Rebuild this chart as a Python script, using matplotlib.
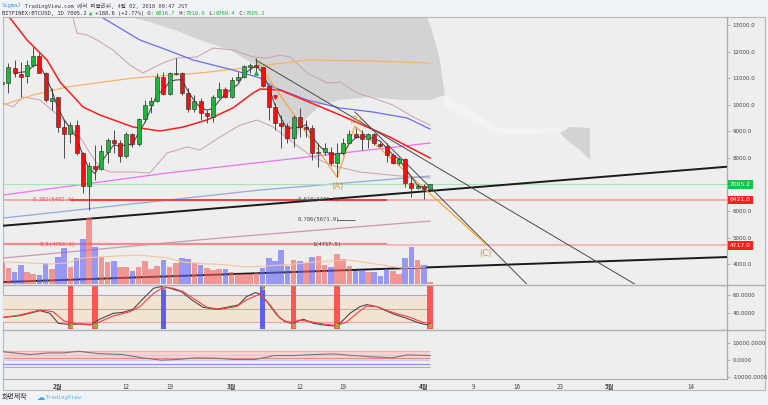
import matplotlib
matplotlib.use('Agg')
import matplotlib.pyplot as plt
import numpy as np
import pandas as pd
from matplotlib.patches import Rectangle, Polygon
from matplotlib.lines import Line2D

# ---------------- data (day index: 0 = 2018-02-01) ----------------
days = list(range(-9, 61))
opens = [10770, 10807, 11371, 11158, 11083, 11496, 11835, 11208, 10143, 10281,
         9178, 8890, 9241, 8176, 6948, 7700, 7574, 8238, 8677, 8552,
         8076, 8890, 8514, 9454, 9993, 10156, 11058, 10406, 11158, 11208,
         10456, 9830, 10156, 9679, 9554, 10306, 10582, 10306, 10932, 11033,
         11434, 11509, 11409, 10707, 9930, 9304, 9203, 8740, 9529, 9153,
         9115, 8176, 8238, 8238, 7825, 8176, 8577, 8890, 8890, 8702,
         8890, 8527, 8452, 8113, 7800, 7950, 7073, 6860, 6948, 6816.7]
highs = [11058, 11559, 11684, 11622, 11684, 12185, 11935, 11246, 10619, 10306,
         9429, 9366, 9429, 8238, 7862, 8489, 8489, 8740, 9053, 8677,
         8990, 8928, 9491, 10181, 10306, 11183, 11246, 11246, 11747, 11246,
         10619, 10369, 10243, 9805, 10369, 10870, 10682, 11058, 11246, 11496,
         11559, 11747, 11434, 10745, 10055, 9617, 9304, 9617, 9867, 9429,
         9241, 8552, 8552, 8426, 8552, 8740, 9053, 9115, 9053, 8928,
         8928, 8615, 8552, 8176, 8050, 7988, 7299, 7023, 7023, 7019.0]
lows = [10556, 10431, 11058, 10306, 10807, 11434, 11183, 10118, 9805, 8990,
        7988, 8552, 8113, 6672, 6046, 7173, 7549, 7800, 8176, 7862,
        7988, 8426, 8452, 9366, 9679, 10118, 10369, 10369, 11120, 10369,
        9742, 9742, 9429, 9329, 9366, 10243, 10243, 10243, 10870, 11000,
        11183, 11183, 10682, 9429, 9053, 8364, 8552, 8426, 8802, 8802,
        7925, 7675, 8113, 7737, 7299, 8113, 8552, 8740, 8301, 8364,
        8489, 8426, 7862, 7775, 7737, 6923, 6547, 6822, 6447, 6769.4]
closes = [10870, 11434, 11183, 11058, 11496, 11835, 11208, 10181, 10243, 9178,
          8890, 9241, 8176, 6948, 7700, 7587, 8263, 8677, 8552, 8076,
          8890, 8527, 9454, 9993, 10156, 11058, 10406, 11183, 11208, 10456,
          9830, 10156, 9679, 9579, 10306, 10582, 10306, 10932, 11033, 11459,
          11509, 11409, 10707, 9930, 9304, 9203, 8740, 9529, 9153, 9078,
          8176, 8238, 8364, 7825, 8176, 8577, 8890, 8802, 8702, 8890,
          8552, 8452, 8113, 7800, 7950, 7073, 6860, 6948, 6822, 7005.2]
volumes = [22, 16, 12, 19, 12, 10, 9, 21, 15, 27,
           36, 17, 26, 45, 66, 37, 27, 22, 23, 17,
           17, 13, 17, 23, 15, 18, 24, 17, 21, 26,
           25, 21, 19, 16, 14, 15, 15, 12, 10, 10,
           10, 11, 16, 26, 23, 34, 18, 24, 23, 21,
           27, 28, 19, 17, 30, 25, 18, 13, 14, 12,
           12, 8, 15, 13, 10, 26, 37, 24, 19, 2]
vol_up = "rrbbrrbbrbbrbbrbrrbrrbrrrrbrrbbrbrrrbrrrrrbbbbbrbrbrrbrrrbbrbbbrrbbrbr"

vol_ma_days = [-8.9, -4, -1.3, 1.4, 4, 6.8, 9.5, 13.2, 17.6, 20.2, 24, 25.3, 30.6, 36.1, 41.5, 46.8, 52.3, 55.5, 59.2]
vol_ma_vals = [22, 21, 20, 21, 26, 27, 28, 29, 26, 22, 20, 20, 17, 19, 22, 24, 19, 16, 17]

red_ma_days = [-8.87, -5.0, -1.77, 0.32, 4.03, 6.77, 12.1, 16.45, 20.2, 24.0, 28.2, 31.45, 32.6, 35.8, 45.5, 53.5, 60]
red_ma_vals = [13600, 12436, 11684, 10857, 9917, 9616, 9165, 9014, 9165, 9428, 9879, 10443, 10594, 10556, 9616, 8789, 8000]
blue_ma_days = [5.16, 7.26, 13.2, 17.6, 21.8, 28.2, 32.6, 34.7, 40.2, 45.5, 50.8, 56.3, 60]
blue_ma_vals = [13564, 13263, 12436, 12060, 11684, 11308, 11007, 10669, 10180, 9879, 9729, 9503, 9090]
orange_ma_days = [-8.87, -4.03, 1.45, 12.1, 22.9, 32.6, 40.2, 50.8, 60]
orange_ma_vals = [9992, 10368, 10669, 11007, 11195, 11458, 11684, 11646, 11571]
magenta_days = [-8.87, 17.6, 60]
magenta_vals = [6608, 7435, 8563]
ltblue_days = [-8.87, 32.6, 60]
ltblue_vals = [5743, 6796, 7322]
mauve_days = [-8.87, 26.1, 60]
mauve_vals = [4239, 4991, 5630]

bb_up_days = [0.3, 2.42, 3.06, 4.68, 6.29, 8.87, 11.6, 13.7, 16.9, 19.2, 22.4, 25.0, 28.2, 31.45, 33.7, 35.8, 37.4,
              40.2, 43.4, 45.5, 48.2, 50.8, 54.0, 57.3, 60]
bb_up_vals = [13752, 13263, 12699, 12624, 12436, 12060, 11496, 11195, 11571, 11759, 11797, 12135, 12060, 11797, 11759,
              11872, 11797, 11195, 10819, 10857, 10443, 10255, 9992, 9541, 9240]
bb_lo_days = [-8.87, -7.26, -5.65, -2.9, 0.32, 3.55, 5.16, 6.77, 8.4, 12.1, 14.8, 17.6, 20.8, 22.9, 26.1, 29.4, 32.1,
              34.7, 37.4, 40.6, 43.9, 48.7, 55.2, 60]
bb_lo_vals = [10067, 9917, 10293, 10180, 9541, 8789, 8187, 7623, 7473, 7473, 7435, 8187, 8413, 8300, 8789, 9240, 9428,
              9165, 8676, 8112, 7736, 7473, 7322, 7247]

cloud_dark_days = [7.58, 58.4, 60.3, 61.6, 62.4, 60, 55.2, 50.3, 45.5, 42.3, 39.8, 38.2, 36.6, 35.5, 34.2, 31.8,
                   27.7, 22.9, 18.9, 14.8, 11.6]
cloud_dark_vals = [14000, 14000, 12812, 11684, 10368, 10180, 10180, 10293, 10180, 9992, 9428, 8676, 8676, 9804,
                   10744, 11496, 12060, 12436, 12812, 13113, 13300]
cloud_light_days = [62.4, 71.3, 81.0, 81.0, 71.3, 62.4]
cloud_light_vals = [10368, 9128, 9165, 8939, 8864, 9900]
cloud_end_days = [80.97, 82.6, 85.8, 85.8, 84.2, 82.1]
cloud_end_vals = [8939, 9165, 9128, 7924, 8300, 8676]

trend_up_days, trend_up_vals = [-8.87, 107.9], [5454, 7672]
trend_lo_days, trend_lo_vals = [-8.87, 107.9], [3337, 4277]
line1_days, line1_vals = [31.9, 93.0], [11684, 3262]
line2_days, line2_vals = [47.9, 75.6], [9729, 3262]
abc_days = [31.9, 45.0, 47.9, 69.0]
abc_vals = [11684, 7285, 9203, 4763]
abc_labels = ["(A)", "(B)", "(C)"]
abc_label_vals = [6946, 9428, 4427]

last_price = 7005.2
fib_levels = {"0.382(6402.4)": 6402.4, "0.618(6421.4)": 6421.4, "0.786(5671.9)": 5671.9,
              "0.5(4763.3)": 4763.3, "1(4717.5)": 4717.5}
axis_boxes = [(7005.2, "7005.2", "#19c24a"), (6421.0, "6421.0", "#ff1f1f"), (4717.0, "4717.0", "#ff1f1f")]

stk_days = [-8.8, -6.1, -2.9, -1.3, 0.05, 1.7, 3.8, 5.4, 6.8, 8.9, 10.5, 12.1, 13.8, 15.4, 16.5, 17.5, 19.9, 21.6,
            23.4, 25.6, 27.7, 29.1, 30.4, 31.8, 32.6, 33.7, 35.3, 36.6, 38.0, 39.6, 41.2, 42.8, 44.4, 45.5, 47.1,
            48.7, 49.8, 51.4, 54.1, 56.2, 58.4, 59.7, 60]
stk_k = [35.6, 37.5, 42.9, 40.0, 29.1, 28.0, 28.4, 28.0, 33.8, 40.0, 41.1, 44.4, 56.4, 67.3, 69.1, 68.4, 63.6, 54.6,
         46.6, 44.4, 47.3, 49.1, 58.2, 62.5, 61.1, 52.7, 38.2, 30.9, 29.8, 33.5, 29.1, 27.3, 26.2, 29.1, 40.0,
         47.3, 49.5, 47.3, 39.3, 34.6, 29.1, 27.3, 29.1]
std_days = [-8.8, -6.1, -2.9, -0.8, 0.9, 2.5, 5.2, 6.8, 8.9, 11.6, 13.2, 15.4, 17.0, 18.6, 20.2, 21.8, 24.0, 26.1,
            28.8, 30.4, 32.6, 34.2, 35.8, 37.4, 39.0, 40.7, 42.8, 45.0, 46.6, 48.2, 49.8, 51.4, 54.1, 56.8, 58.9, 60]
std_d = [35.6, 38.2, 43.7, 41.8, 32.0, 29.1, 27.3, 30.9, 37.1, 41.8, 47.3, 61.8, 68.4, 67.3, 63.6, 56.4, 46.6, 44.4,
         47.3, 54.6, 61.1, 49.1, 34.6, 29.1, 32.7, 30.9, 28.4, 26.6, 30.9, 40.0, 48.0, 47.3, 40.7, 35.6, 29.8, 29.8]
signal_days = [2, 6, 17, 33, 38, 45, 60]
signal_types = ["B", "B", "S", "S", "B", "B", "B"]

osc3_days = [-9, -4.6, -1.5, 0.9, 3.3, 6.5, 10.4, 13.6, 16.7, 19.1, 22.3, 25.4, 28.6, 31.8, 34.9, 38.1, 41.2,
             44.4, 47.6, 50.7, 53.9, 56.3, 60]
osc3_vals = [4650, 2900, 3880, 3880, 4850, 3490, 2900, 970, -390, 0, 970, 780, 0, 0, 2330, 2330, 2900,
             3300, 2330, 1550, 970, 2710, 2330]

date_ticks = [0, 11, 18, 28, 39, 46, 59, 67, 74, 81, 89, 102]
date_labels = ["2월", "12", "19", "3월", "12", "19", "4월", "9", "16", "23", "5월", "14"]
price_ticks = [4000, 5000, 6000, 7000, 8000, 9000, 10000, 11000, 12000, 13000]
hidden_price_ticks = [7000]   # covered by the last-price box

# ---------------- layout ----------------
W, H = 768, 405
XMIN, XMAX = -8.87, 107.9
fig = plt.figure(figsize=(7.68, 4.05), dpi=100)
fig.patch.set_facecolor('#f0f3f6')
CJK = ['Noto Sans CJK KR', 'DejaVu Sans']
MONO = ['DejaVu Sans Mono', 'Noto Sans CJK KR']
TICK_FS = 4.0


def fr(x0, y0, x1, y1):
    return [x0 / W, 1 - y1 / H, (x1 - x0) / W, (y1 - y0) / H]


fig.add_artist(Rectangle((3 / W, 1 - 390 / H), 762 / W, 373 / H, transform=fig.transFigure,
                         facecolor='#eeeeee', edgecolor='#b8b8b8', lw=0.8, zorder=-5))


def style(ax):
    ax.set_facecolor('none')
    for s in ['top', 'left', 'bottom']:
        ax.spines[s].set_visible(False)
    ax.spines['right'].set_color('#aaaaaa')
    ax.spines['right'].set_linewidth(0.8)
    ax.set_xlim(XMIN, XMAX)
    ax.yaxis.tick_right()
    ax.tick_params(axis='y', labelsize=TICK_FS, labelcolor='#444444', length=2, width=0.5, color='#999999', pad=2)
    ax.tick_params(axis='x', bottom=False, labelbottom=False)


# volume overlay axes
axv = fig.add_axes(fr(3, 18, 727, 284))
axv.set_ylim(0, 266)
axv.set_xlim(XMIN, XMAX)
axv.axis('off')

ax = fig.add_axes(fr(3, 18, 727, 284))
style(ax)
ax.set_ylim(3263, 13263)
ax.set_yticks(price_ticks)
ax.set_yticklabels(["" if v in hidden_price_ticks else f"{v:.1f}" for v in price_ticks])

# cloud
ax.add_patch(Polygon(list(zip(cloud_dark_days, cloud_dark_vals)), closed=True, facecolor='#d3d3d3',
                     edgecolor='none', zorder=1))
ax.add_patch(Polygon(list(zip(cloud_light_days, cloud_light_vals)), closed=True, facecolor='#f3f3f3',
                     edgecolor='none', zorder=1))
ax.add_patch(Polygon(list(zip(cloud_end_days, cloud_end_vals)), closed=True, facecolor='#d3d3d3',
                     edgecolor='none', zorder=1))

# bands and MAs
ax.plot(bb_up_days, bb_up_vals, color='#c4a4a8', lw=0.7, zorder=2)
ax.plot(bb_lo_days, bb_lo_vals, color='#c4a4a8', lw=0.7, zorder=2)
ax.plot(orange_ma_days, orange_ma_vals, color='#f6b468', lw=0.9, zorder=2)
ax.plot(blue_ma_days, blue_ma_vals, color='#6c6cf0', lw=0.9, zorder=2)
ax.plot(magenta_days, magenta_vals, color='#f070f0', lw=0.9, zorder=2)
ax.plot(ltblue_days, ltblue_vals, color='#94a8dc', lw=0.9, zorder=2)
ax.plot(mauve_days, mauve_vals, color='#c898b4', lw=0.9, zorder=2)
ax.plot(red_ma_days, red_ma_vals, color='#ff1c1c', lw=1.1, zorder=2)

# horizontal levels
ax.hlines(last_price, XMIN, XMAX, color='#a4e2b2', lw=0.8, zorder=2)
ax.hlines(fib_levels["0.618(6421.4)"], XMIN, XMAX, color='#f4a4a4', lw=1.3, zorder=2)
ax.hlines(fib_levels["0.382(6402.4)"], 1.94, 53.0, color='#ff2a2a', lw=1.2, zorder=2)
ax.hlines(fib_levels["1(4717.5)"], 53.0, XMAX, color='#f5b8b8', lw=1.5, zorder=2)
ax.hlines(fib_levels["0.5(4763.3)"], XMIN, 53.0, color='#f28c8c', lw=1.6, zorder=2)
ax.hlines(fib_levels["0.786(5671.9)"], 45.0, 47.9, color='#666666', lw=0.7, zorder=2)

ax.text(-4.03, 6421, "0.382(6402.4)", color='#ff4a4a', fontsize=4, family=MONO, va='center', zorder=5)
ax.text(38.7, 6440, "0.618(6421.4)", color='#555555', fontsize=4, family=MONO, va='center', zorder=5)
ax.text(38.7, 5672, "0.786(5671.9)", color='#444444', fontsize=4, family=MONO, va='center', zorder=5)
ax.text(-2.9, 4745, "0.5(4763.3)", color='#ff4a4a', fontsize=4, family=MONO, va='center', zorder=5)
ax.text(41.0, 4745, "1(4717.5)", color='#444444', fontsize=4, family=MONO, va='center', zorder=5)

# trend lines
ax.plot(trend_up_days, trend_up_vals, color='#1a1a1a', lw=1.4, zorder=3)
ax.plot(trend_lo_days, trend_lo_vals, color='#1a1a1a', lw=1.4, zorder=3)
ax.plot(line1_days, line1_vals, color='#4a4a4a', lw=0.7, zorder=3)
ax.plot(line2_days, line2_vals, color='#4a4a4a', lw=0.7, zorder=3)
ax.plot(abc_days, abc_vals, color='#f5a838', lw=0.9, zorder=3)
for dd, lab, vv in zip(abc_days[1:], abc_labels, abc_label_vals):
    ax.text(dd, vv, lab, color='#d49a3a', fontsize=6, ha='center', va='center', zorder=5)

# short MA from closes
short_ma = pd.Series(closes).rolling(3).mean()
ax.plot(days, short_ma, color='#4d4d4d', lw=0.8, zorder=3)

# candles
o = np.array(opens); c = np.array(closes); h = np.array(highs); l = np.array(lows)
up = c >= o
ax.vlines(days, l, h, color='#333333', lw=0.6, zorder=4)
ax.bar(days, np.maximum(np.abs(c - o), 45), bottom=np.minimum(o, c), width=0.62,
       color=np.where(up, '#1db53c', '#f51010'), edgecolor='#2a2a2a', lw=0.4, zorder=5)
ax.plot([31.9], [11195], marker='^', color='#1db53c', ms=2.5, zorder=6)
ax.plot([35.0], [10293], marker='v', color='#f51010', ms=2.5, zorder=6)

# price boxes on axis
for val, txt, col in axis_boxes:
    ax.text(1.004, val, txt, transform=ax.get_yaxis_transform(), color='white', fontsize=TICK_FS + 0.3,
            va='center', ha='left', zorder=10, clip_on=False,
            bbox=dict(boxstyle='square,pad=0.3', facecolor=col, edgecolor='none'))

# volume bars: drawn on top with transparency
axv.set_zorder(ax.get_zorder() + 1)
vcols = ['#6464f5' if ch == 'b' else '#f55f5f' for ch in vol_up]
axv.bar(days, volumes, width=0.92, color=vcols, alpha=0.62, lw=0, zorder=2)
axv.plot(vol_ma_days, vol_ma_vals, color='#f8c49a', lw=0.8, zorder=3)

# ---------------- oscillator pane ----------------
ax2 = fig.add_axes(fr(3, 285, 727, 329))
style(ax2)
ax2.set_ylim(22.9, 70.9)
ax2.set_yticks([40, 60])
ax2.set_yticklabels(["40.0000", "60.0000"])
ax2.fill_between([XMIN, 60], 30, 60, color='#f2e4d2', lw=0, zorder=1)
ax2.hlines(60, XMIN, 60, color='#a9a0ea', lw=0.8, zorder=2)
ax2.hlines(45, XMIN, 60, color='#b4a08c', lw=0.6, zorder=2)
ax2.hlines(30, XMIN, 60, color='#f4a2a2', lw=0.8, zorder=2)
for dd, tp in zip(signal_days, signal_types):
    ax2.axvspan(dd - 0.45, dd + 0.45, color='#ff4545' if tp == 'B' else '#5050f0', alpha=0.9, lw=0, zorder=3)
    if tp == 'B':
        ax2.text(dd, 25.2, "B", color='#8cc43c', fontsize=4.5, ha='center', va='center', zorder=6, fontweight='bold')
    else:
        ax2.text(dd, 67.0, "S", color='#d8b83c', fontsize=4.5, ha='center', va='center', zorder=6, fontweight='bold')
ax2.plot(stk_days, stk_k, color='#4a4a4a', lw=0.8, zorder=4)
ax2.plot(std_days, std_d, color='#ff4040', lw=0.8, zorder=4)

# ---------------- third pane ----------------
ax3 = fig.add_axes(fr(3, 331, 727, 379))
style(ax3)
ax3.set_ylim(-11470, 16765)
ax3.set_yticks([-10000, 0, 10000])
ax3.set_yticklabels(["-10000.0000", "0.0000", "10000.0000"])
ax3.fill_between([XMIN, 60], 0, 4800, color='#f6d4d4', lw=0, zorder=1)
ax3.fill_between([XMIN, 60], -900, 0, color='#cfcff6', lw=0, zorder=1)
ax3.hlines(4800, XMIN, 60, color='#f2aaaa', lw=0.8, zorder=2)
ax3.hlines(2700, XMIN, 60, color='#f4bcbc', lw=0.6, zorder=2)
ax3.hlines(600, XMIN, 60, color='#f08a8a', lw=0.8, zorder=2)
ax3.hlines(-2400, XMIN, 60, color='#8c8cee', lw=0.8, zorder=2)
ax3.hlines(-4300, XMIN, 60, color='#a8a8f2', lw=0.8, zorder=2)
ax3.plot(osc3_days, osc3_vals, color='#777777', lw=0.8, zorder=3)
ax3.spines['bottom'].set_visible(True)
ax3.spines['bottom'].set_color('#aaaaaa')
ax3.set_xticks(date_ticks)
ax3.set_xticklabels(date_labels)
ax3.tick_params(axis='x', bottom=True, labelbottom=True, length=0, pad=3, labelsize=4.5, labelcolor='#444444')
for lab in ax3.get_xticklabels():
    lab.set_fontfamily(CJK)
    if '월' in lab.get_text():
        lab.set_fontweight('bold')

# separators
for yy in [284.5, 330.0]:
    fig.add_artist(Line2D([3 / W, 765 / W], [1 - yy / H, 1 - yy / H], transform=fig.transFigure,
                          color='#b0b0b0', lw=1.0))
fig.add_artist(Line2D([727 / W, 727 / W], [1 - 379 / H, 1 - 17 / H], transform=fig.transFigure,
                      color='#aaaaaa', lw=0.8))

# ---------------- header / footer ----------------
cw = 0.602 * 4.0 * 100 / 72
fig.text(2 / W, 1 - 6 / H, "SigmaJ", color='#3f9ee0', fontsize=4.0, family=MONO, va='center', ha='left')
fig.text((2 + 7 * cw) / W, 1 - 6 / H, "TradingView.com 에서 퍼블리쉬, 4월 02, 2018 09:47 JST",
         color='#444444', fontsize=4.0, family=MONO, va='center', ha='left')
row2 = [("BITFINEX:BTCUSD, 1D 7005.2", '#333333'), ("▲", '#19b53c'), (" +188.6 (+2.77%) O:", '#333333'),
        ("6816.7", '#19b53c'), (" H:", '#333333'), ("7019.0", '#19b53c'), (" L:", '#333333'),
        ("6769.4", '#19b53c'), (" C:", '#333333'), ("7005.2", '#19b53c')]
pos = 0
for txt, col in row2:
    fig.text((2 + pos * cw) / W, 1 - 13.5 / H, txt, color=col, fontsize=4.0, family=MONO, va='center', ha='left')
    pos += len(txt)

fig.text(2 / W, 1 - 397 / H, "화면제작", color='#333333', fontsize=5, family=CJK, va='center', ha='left')
fig.text(37 / W, 1 - 397 / H, "☁", color='#3fa9e0', fontsize=6, family=['DejaVu Sans'], va='center', ha='left')
fig.text(46 / W, 1 - 397 / H, "TradingView", color='#5ab4e6', fontsize=4.0, family=MONO, va='center', ha='left')

fig.savefig('out.png', dpi=100, facecolor=fig.get_facecolor())
